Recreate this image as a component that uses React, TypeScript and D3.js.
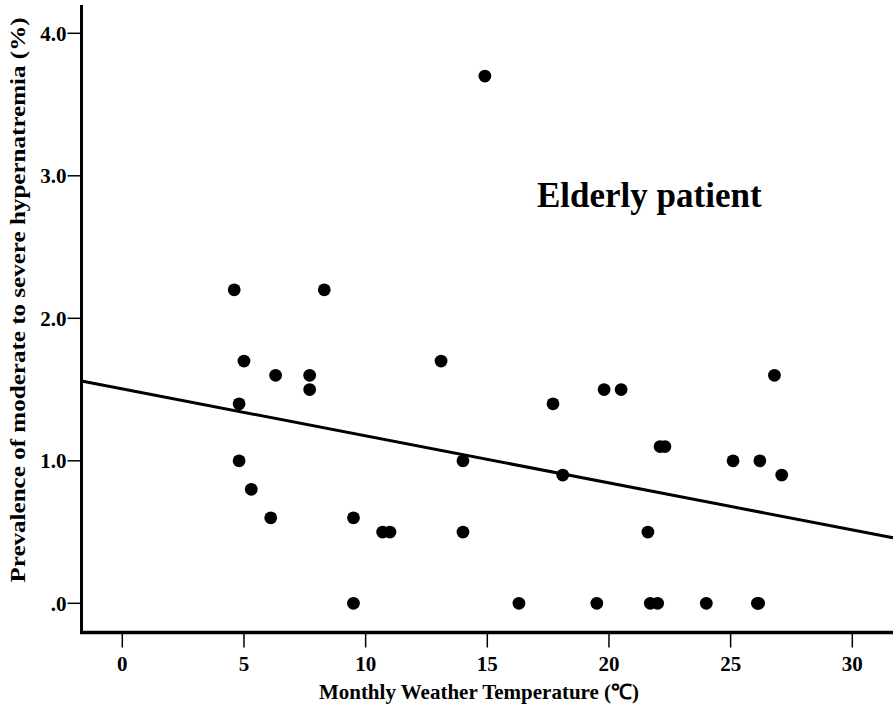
import React from "react";
import * as d3 from "d3";

const temps = [4.6, 8.3, 5.0, 6.3, 7.7, 7.7, 4.8, 4.8, 5.3, 6.1, 9.5, 10.7, 11.0, 9.5, 13.1, 14.9, 14.0, 14.0, 16.3, 17.7, 18.1, 19.5, 19.8, 20.5, 21.6, 21.7, 22.0, 22.1, 22.3, 24.0, 25.1, 26.1, 26.2, 26.8, 27.1, 26.15];
const prevalence = [2.2, 2.2, 1.7, 1.6, 1.6, 1.5, 1.4, 1.0, 0.8, 0.6, 0.6, 0.5, 0.5, 0.0, 1.7, 3.7, 1.0, 0.5, 0.0, 1.4, 0.9, 0.0, 1.5, 1.5, 0.5, 0.0, 0.0, 1.1, 1.1, 0.0, 1.0, 0.0, 1.0, 1.6, 0.9, 0.0];
const xTicks = [0, 5, 10, 15, 20, 25, 30];
const yTicks = [0, 1, 2, 3, 4];
const yTickLabels = [".0", "1.0", "2.0", "3.0", "4.0"];
const fitIntercept = 1.505;
const fitSlope = -0.033;

const W = 896;
const H = 716;
const FONT = "'Liberation Serif', 'Times New Roman', serif";

export default function App() {
  const left = 81.5;
  const right = 893;
  const top = 5;
  const bottom = 632.5;
  const x = d3.scaleLinear().domain([0, 30]).range([122.3, 852.3]);
  const y = d3.scaleLinear().domain([0, 4]).range([603.3, 33.3]);
  const xMin = x.invert(left);
  const xMax = x.invert(right);
  const line = d3.line<number>().x((d) => x(d)).y((d) => y(fitIntercept + fitSlope * d));
  return (
    <svg width={W} height={H} style={{ position: "absolute", left: 0, top: 0, background: "#fff" }} fontFamily={FONT}>
      <rect x={0} y={0} width={W} height={H} fill="#fff" />
      <path d={line([xMin, xMax]) || ""} stroke="#000" strokeWidth={3} fill="none" />
      {temps.map((t, i) => (
        <circle key={i} cx={x(t)} cy={y(prevalence[i])} r={6.4} fill="#000" />
      ))}
      <line x1={left} x2={left} y1={top} y2={bottom + 1.5} stroke="#000" strokeWidth={3} />
      <line x1={left - 1.5} x2={right} y1={bottom} y2={bottom} stroke="#000" strokeWidth={3.5} />
      {yTicks.map((v, i) => (
        <g key={v}>
          <line x1={left - 14} x2={left} y1={y(v)} y2={y(v)} stroke="#000" strokeWidth={1.5} />
          <text x={left - 15} y={y(v) + 7.5} textAnchor="end" fontSize={21} fontWeight="bold">
            {yTickLabels[i]}
          </text>
        </g>
      ))}
      {xTicks.map((v) => (
        <g key={v}>
          <line x1={x(v)} x2={x(v)} y1={bottom} y2={bottom + 15} stroke="#000" strokeWidth={1.5} />
          <text x={x(v)} y={671} textAnchor="middle" fontSize={21} fontWeight="bold">
            {v}
          </text>
        </g>
      ))}
      <text x={479} y={699} textAnchor="middle" fontSize={21} fontWeight="bold">
        Monthly Weather Temperature (℃)
      </text>
      <text transform="translate(25,300) rotate(-90) scale(1.14,1)" textAnchor="middle" fontSize={22} fontWeight="bold">
        Prevalence of moderate to severe hypernatremia (%)
      </text>
      <text x={537} y={207} fontSize={35} fontWeight="bold">
        Elderly patient
      </text>
    </svg>
  );
}
